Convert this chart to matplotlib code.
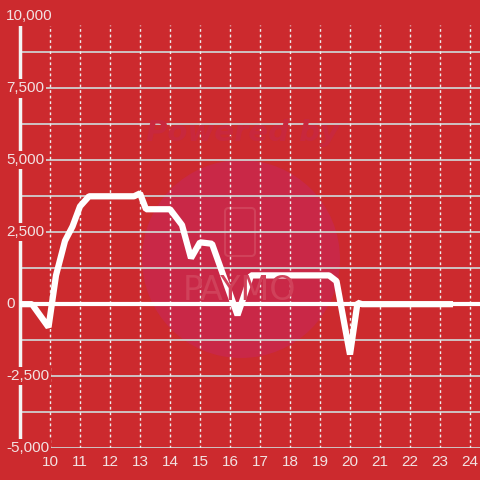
import numpy as np
import matplotlib.pyplot as plt
from matplotlib.patches import Circle, FancyBboxPatch

plt.rcParams['font.family'] = ['Liberation Sans', 'DejaVu Sans']

# data
hours = [9.0, 9.4, 9.95, 10.2, 10.5, 10.75, 11.0, 11.3, 12.8, 13.0, 13.2, 14.0,
         14.4, 14.7, 15.0, 15.4, 16.25, 16.7, 19.3, 19.55, 20.0, 20.25, 20.4, 23.33]
values = [0, 0, -800, 1000, 2200, 2700, 3400, 3750, 3750, 3850, 3300, 3300,
          2750, 1600, 2150, 2100, -380, 1000, 1000, 800, -1750, 50, 0, 0]
x_ticks = list(range(10, 25))
y_labels = [-5000, -2500, 0, 2500, 5000, 7500, 10000]
y_grid = list(range(-5000, 10001, 1250))

bg = '#cc2a2e'
fg = '#f2e2e2'

fig = plt.figure(figsize=(4.8, 4.8), dpi=100, facecolor=bg)
ax = fig.add_axes([20 / 480, 32 / 480, 460 / 480, 431.5 / 480])
ax.set_facecolor(bg)
ax.set_xlim(9, 24.333)
ax.set_ylim(-5000, 10000)

# watermark
ax.add_patch(Circle((241 / 480, 1 - 259 / 480), 99 / 480, transform=fig.transFigure,
                    facecolor='#c92847', edgecolor='none', zorder=0))
fig.text(242 / 480, 1 - 133 / 480, 'Powered by', ha='center', va='center',
         fontsize=21, fontstyle='italic', fontweight='bold', color='#c8283d',
         family='DejaVu Sans', zorder=0)
ax.add_patch(FancyBboxPatch((225 / 480, 1 - 256 / 480), 30 / 480, 48 / 480,
                            boxstyle='round,pad=0,rounding_size=0.008',
                            transform=fig.transFigure, facecolor='none',
                            edgecolor='#d0415a', lw=1.5, zorder=0))
fig.text(240 / 480, 1 - 290 / 480, 'PAYMO', ha='center', va='center', fontsize=24,
         color='#d0415a', family='DejaVu Sans', zorder=0)

# grid
for v in y_grid:
    ax.axhline(v, color='#cfcfcf', lw=1.3, zorder=1)
for t in x_ticks:
    ax.axvline(t, color='#eeeeee', lw=1, ls=(0, (2, 2)), ymax=(9700 - (-5000)) / 15000, zorder=1)
ax.axhline(0, color='white', lw=3, zorder=2)

# line
ax.plot(hours, values, color='white', lw=4.5, zorder=3, solid_joinstyle='bevel')

for s in ['top', 'right', 'bottom']:
    ax.spines[s].set_visible(False)
ax.spines['left'].set_color('#f4f4f4')
ax.spines['left'].set_linewidth(2.5)
ax.spines['left'].set_zorder(2)

ax.set_yticks([])
ax.set_xticks(x_ticks)
ax.set_xticklabels([str(t) for t in x_ticks], fontsize=11, color=fg)
ax.tick_params(axis='x', length=0, pad=5)

for v in y_labels:
    ax.text(-14 / 460, v, f'{v:,}', transform=ax.get_yaxis_transform(), ha='left',
            va='center', fontsize=11, color=fg, zorder=4,
            bbox=dict(facecolor=bg, edgecolor='none', pad=1.5))

fig.savefig('out.png', dpi=100, facecolor=bg)
